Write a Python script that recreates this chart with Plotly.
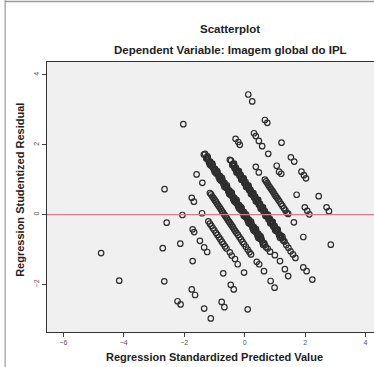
import plotly.graph_objects as go

# Regression diagnostics: standardized predicted value vs studentized residual.
# Cases are grouped by the diagonal band they fall on (one band per observed score).

band_a_pred = [-1.35, -1.31, -1.27, -1.22, -1.18, -1.14, -1.10, -1.06, -1.02, -0.98,
               -0.94, -0.90, -0.86, -0.82, -0.78, -0.74, -0.70, -0.66, -0.62, -0.58,
               -0.54, -0.50, -0.46, -0.42, -0.38, -0.34, -0.30, -0.26, -0.22, -0.18,
               -0.14, -0.10, -0.06, -0.02, 0.02, 0.06, 0.10, 0.14, 0.18, 0.22,
               0.26, 0.30, 0.34, 0.38, 0.42, 0.46, 0.50, 0.55, 0.60, 0.65,
               0.70, 0.76, 0.84, 1.00, 1.17, 1.33, 1.44]
band_a_resid = [1.72, 1.74, 1.61, 1.63, 1.49, 1.52, 1.39, 1.42, 1.29, 1.31,
                1.18, 1.21, 1.08, 1.11, 0.97, 1.00, 0.87, 0.90, 0.77, 0.79,
                0.66, 0.69, 0.56, 0.59, 0.45, 0.48, 0.35, 0.38, 0.25, 0.27,
                0.14, 0.17, 0.04, 0.07, -0.07, -0.04, -0.17, -0.14, -0.27, -0.25,
                -0.38, -0.35, -0.48, -0.45, -0.59, -0.56, -0.69, -0.68, -0.81, -0.82,
                -0.93, -0.97, -1.06, -1.16, -1.33, -1.56, -1.76]

# further cases sitting on the same score band
band_a2_pred = [-1.25, -1.21, -1.17, -1.13, -1.09, -1.05, -1.01, -0.97, -0.93, -0.89,
                -0.85, -0.81, -0.77, -0.73, -0.69, -0.65, -0.61, -0.57, -0.53, -0.49,
                -0.45, -0.41, -0.37, -0.33, -0.29, -0.25, -0.21, -0.17, -0.13, -0.09,
                -0.05, -0.01, 0.03, 0.07, 0.11, 0.15, 0.19, 0.23, 0.27, 0.31,
                0.35, 0.39, 0.43, 0.47, 0.52, 0.57, 0.62, 0.67]
band_a2_resid = [1.63, 1.57, 1.52, 1.47, 1.42, 1.36, 1.31, 1.26, 1.21, 1.16,
                 1.10, 1.05, 1.00, 0.95, 0.90, 0.84, 0.79, 0.74, 0.69, 0.64,
                 0.58, 0.53, 0.48, 0.43, 0.38, 0.32, 0.27, 0.22, 0.17, 0.12,
                 0.06, 0.01, -0.04, -0.09, -0.14, -0.20, -0.25, -0.30, -0.35, -0.40,
                 -0.46, -0.51, -0.56, -0.61, -0.68, -0.74, -0.81, -0.87]

band_a3_pred = [-1.23, -1.15, -1.07, -0.99, -0.91, -0.83, -0.75, -0.67, -0.59, -0.51,
                -0.43, -0.35, -0.27, -0.19, -0.11, -0.03, 0.05, 0.13, 0.21, 0.29,
                0.37, 0.45, 0.53, 0.61]
band_a3_resid = [1.67, 1.43, 1.46, 1.22, 1.25, 1.01, 1.05, 0.80, 0.84, 0.59,
                 0.63, 0.39, 0.42, 0.18, 0.21, -0.03, 0.00, -0.24, -0.20, -0.45,
                 -0.41, -0.66, -0.62, -0.86]

band_b_pred = [-0.49, -0.45, -0.41, -0.37, -0.33, -0.29, -0.25, -0.21, -0.17, -0.13,
               -0.09, -0.05, -0.01, 0.03, 0.07, 0.11, 0.15, 0.19, 0.23, 0.27,
               0.31, 0.35, 0.39, 0.43, 0.47, 0.51, 0.55, 0.59, 0.63, 0.67,
               0.71, 0.75, 0.79, 0.83, 0.87, 0.91, 0.95, 0.99, 1.04, 1.09,
               1.14, 1.20, 1.26, 1.32, 1.38, 1.45, 1.52, 1.60, 1.68]
band_b_resid = [1.57, 1.55, 1.42, 1.45, 1.32, 1.35, 1.22, 1.24, 1.11, 1.14,
                1.01, 1.03, 0.90, 0.93, 0.80, 0.83, 0.70, 0.72, 0.59, 0.62,
                0.49, 0.52, 0.38, 0.41, 0.28, 0.31, 0.18, 0.20, 0.07, 0.10,
                -0.03, -0.01, -0.14, -0.11, -0.24, -0.21, -0.35, -0.32, -0.46, -0.45,
                -0.59, -0.60, -0.72, -0.77, -0.87, -0.95, -1.05, -1.14, -1.24]

band_b2_pred = [-0.39, -0.35, -0.31, -0.27, -0.23, -0.19, -0.15, -0.11, -0.07, -0.03,
                0.01, 0.05, 0.09, 0.13, 0.17, 0.21, 0.25, 0.29, 0.33, 0.37,
                0.41, 0.45, 0.49, 0.53, 0.57, 0.61, 0.65, 0.69, 0.73, 0.77,
                0.81, 0.85, 0.89, 0.93, 0.97, 1.01, 1.06, 1.11, 1.17, 1.23, 1.29]
band_b2_resid = [1.44, 1.38, 1.33, 1.28, 1.23, 1.18, 1.12, 1.07, 1.02, 0.97,
                 0.92, 0.86, 0.81, 0.76, 0.71, 0.66, 0.60, 0.55, 0.50, 0.45,
                 0.40, 0.34, 0.29, 0.24, 0.19, 0.14, 0.08, 0.03, -0.02, -0.07,
                 -0.12, -0.18, -0.23, -0.28, -0.33, -0.38, -0.45, -0.51, -0.59, -0.67, -0.75]

band_b3_pred = [-0.35, -0.27, -0.19, -0.11, -0.03, 0.05, 0.13, 0.21, 0.29, 0.37,
                0.45, 0.53, 0.61, 0.69, 0.77, 0.85, 0.93, 1.01, 1.09, 1.17, 1.25]
band_b3_resid = [1.46, 1.21, 1.25, 1.00, 1.04, 0.79, 0.83, 0.59, 0.62, 0.38,
                 0.42, 0.17, 0.21, -0.04, 0.00, -0.25, -0.21, -0.45, -0.42, -0.66, -0.63]

band_c_pred = [0.67, 0.71, 0.75, 0.79, 0.83, 0.87, 0.91, 0.95, 0.99, 1.03,
               1.07, 1.11, 1.15, 1.20, 1.25, 1.30, 1.35, 1.40, 1.44]
band_c_resid = [1.00, 0.95, 0.90, 0.84, 0.79, 0.74, 0.69, 0.64, 0.58, 0.53,
                0.48, 0.43, 0.38, 0.31, 0.25, 0.18, 0.12, 0.05, 0.02]

band_d_pred = [-1.15, -1.11, -1.07, -1.03, -0.99, -0.95, -0.91, -0.87, -0.83, -0.79,
               -0.75, -0.71, -0.67, -0.63, -0.59, -0.55, -0.51, -0.47, -0.43, -0.39,
               -0.35, -0.31, -0.27, -0.22, -0.17, -0.12, -0.07, -0.02, 0.04, 0.10,
               0.16, 0.21, 0.40, 0.48]
band_d_resid = [0.62, 0.58, 0.52, 0.47, 0.42, 0.37, 0.31, 0.26, 0.21, 0.16,
                0.10, 0.05, 0.00, -0.05, -0.10, -0.16, -0.21, -0.26, -0.31, -0.36,
                -0.42, -0.47, -0.52, -0.58, -0.65, -0.71, -0.78, -0.84, -0.92, -1.00,
                -1.08, -1.14, -1.35, -1.42]

band_e_pred = [-1.20, -1.15, -1.10, -1.05, -1.00, -0.95, -0.90, -0.85, -0.80, -0.75,
               -0.70, -0.65, -0.60, -0.49, -0.43, -0.32, -0.23]
band_e_resid = [-0.19, -0.26, -0.32, -0.39, -0.45, -0.52, -0.58, -0.65, -0.71, -0.78,
                -0.84, -0.91, -0.97, -1.08, -1.17, -1.27, -1.42]

other_pred = [-4.75, -4.15, -2.71, -2.66, -2.65, -2.58, -2.13, -2.06, -2.03, -2.22,
              -2.12, -1.75, -1.64, -1.72, -1.72, -1.67, -1.48, -1.34, -1.24, -1.34,
              -1.12, -1.75, -1.68, -1.41, -1.59, -1.40, -0.71, -0.02, -0.46, -0.36,
              -0.76, -0.67, 0.10, 0.64, 0.86, 0.99, 1.94, 2.05, 2.24, 2.85,
              1.63, 1.94, 1.99, 2.07, 2.14, 2.71, 2.79, 2.45, 1.72, 1.88,
              1.96, 2.03, 1.53, 1.64, 1.22, 1.06, 1.14, 1.21, 0.78, 0.31,
              0.37, 0.47, 0.58, 0.67, 0.75, 0.12, 0.25, -0.30, -0.21, -0.16,
              0.37, 0.47]
other_resid = [-1.10, -1.89, -0.96, -1.91, 0.73, -0.23, -0.83, -0.01, 2.59, -2.48,
               -2.57, -2.14, -2.30, -1.33, -0.42, -0.50, -0.75, -0.94, -1.07, -2.69,
               -2.97, 0.48, 0.37, 0.04, 1.15, 0.91, -1.68, -1.66, -2.01, -2.14,
               -2.50, -2.65, -2.71, -1.62, -1.90, -2.09, -1.51, -1.62, -1.86, -0.86,
               -0.22, -0.64, 0.21, 0.11, 0.01, 0.21, 0.10, 0.53, 0.57, 1.23,
               1.13, 1.04, 1.64, 1.52, 2.06, 1.40, 1.23, 1.17, 1.74, 2.33,
               2.25, 2.11, 1.96, 2.71, 2.63, 3.44, 3.24, 2.17, 2.08, 2.00,
               1.37, 1.21]

x_ticks = [-6, -4, -2, 0, 2, 4]
y_ticks = [-2, 0, 2, 4]
x_range = [-6.54, 4.28]
y_range = [-3.36, 4.37]

pred = (band_a_pred + band_a2_pred + band_a3_pred + band_b_pred + band_b2_pred
        + band_b3_pred + band_c_pred + band_d_pred + band_e_pred + other_pred)
resid = (band_a_resid + band_a2_resid + band_a3_resid + band_b_resid + band_b2_resid
         + band_b3_resid + band_c_resid + band_d_resid + band_e_resid + other_resid)

FONT = "Liberation Sans, Arial, sans-serif"

fig = go.Figure()
fig.add_trace(go.Scatter(
    x=pred, y=resid, mode="markers",
    marker=dict(symbol="circle-open", size=5.5, color="#2e2e2e", line=dict(width=1.2)),
    hoverinfo="skip", showlegend=False,
))

# Reference line at zero residual
fig.add_shape(type="line", xref="paper", yref="y", x0=0, x1=1, y0=0, y1=0,
              line=dict(color="#d77a8c", width=1.2), layer="above")

# Outer output-window frame
fig.add_shape(type="line", xref="paper", yref="paper", x0=-0.128, x1=1.1, y0=1.224, y1=1.224,
              line=dict(color="#9a9a9a", width=1.5))
fig.add_shape(type="line", xref="paper", yref="paper", x0=-0.128, x1=-0.128, y0=1.23, y1=-0.14,
              line=dict(color="#9a9a9a", width=1.2))

fig.update_layout(
    width=374, height=367,
    margin=dict(l=47, r=0, t=62, b=35),
    paper_bgcolor="white", plot_bgcolor="#f0f0f0",
    font=dict(family=FONT, color="#222"),
    xaxis=dict(range=x_range, tickvals=x_ticks, ticks="outside", ticklen=4, tickcolor="#444",
               showgrid=False, zeroline=False, showline=True, linecolor="#333", linewidth=1,
               mirror=True, tickfont=dict(size=7, color="#555")),
    yaxis=dict(range=y_range, tickvals=y_ticks, ticks="outside", ticklen=4, tickcolor="#444",
               showgrid=False, zeroline=False, showline=True, linecolor="#333", linewidth=1,
               tickangle=-90, tickfont=dict(size=7, color="#555")),
    annotations=[
        dict(text="<b>Scatterplot</b>", xref="paper", yref="paper", x=0.56, y=1.122,
             xanchor="center", yanchor="middle", showarrow=False,
             font=dict(size=11.5, color="#222")),
        dict(text="<b>Dependent Variable: Imagem global do IPL</b>", xref="paper", yref="paper",
             x=0.56, y=1.044, xanchor="center", yanchor="middle", showarrow=False,
             font=dict(size=11.5, color="#222")),
        dict(text="<b>Regression Standardized Predicted Value</b>", xref="paper", yref="paper",
             x=0.511, y=-0.093, xanchor="center", yanchor="middle", showarrow=False,
             font=dict(size=11, color="#222")),
        dict(text="<b>Regression Studentized Residual</b>", xref="paper", yref="paper",
             x=-0.083, y=0.526, xanchor="center", yanchor="middle", showarrow=False,
             textangle=-90, font=dict(size=11, color="#222")),
    ],
)

fig.write_html("out.html")
